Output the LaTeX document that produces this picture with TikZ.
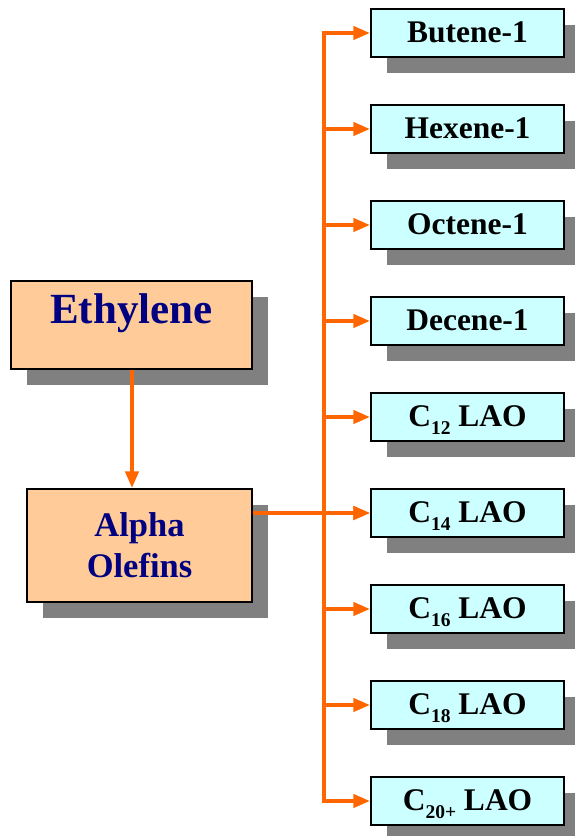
\documentclass[tikz,border=0pt]{standalone}
\usepackage{fontspec}
\setmainfont{Liberation Serif}
\usetikzlibrary{arrows.meta,shadows}
\definecolor{peach}{RGB}{255,204,153}
\definecolor{lcyan}{RGB}{204,255,255}
\definecolor{flow}{RGB}{255,102,0}
\definecolor{navy}{RGB}{0,0,128}
\definecolor{shade}{RGB}{128,128,128}
\newcommand{\lsub}[1]{\raisebox{-8pt}{\fontsize{19.5}{19.5}\selectfont #1}}
\begin{document}
\begin{tikzpicture}[x=1pt,y=-1pt,
  shbox/.style={draw=black, line width=1.5pt, inner sep=0pt,
    drop shadow={shadow xshift=16pt, shadow yshift=-16pt, fill=shade, opacity=1}},
  srcbox/.style={shbox, fill=peach, font=\bfseries, text=navy},
  prodbox/.style={shbox, fill=lcyan, minimum width=193pt, minimum height=48pt,
    font=\fontsize{31.5}{31.5}\selectfont\bfseries, text=black, text height=22pt, text depth=3pt},
  flowline/.style={draw=flow, line width=4.8pt},
  arr/.style={flowline, -{Triangle[length=17pt,width=13pt]}}
]
\useasboundingbox (0,0) rectangle (574,836);
\node[srcbox, minimum width=241pt, minimum height=88pt, text height=30pt, text depth=34pt,
  font=\fontsize{43}{43}\selectfont\bfseries] (eth) at (131.5,325) {Ethylene};
\node[srcbox, minimum width=225pt, minimum height=113pt, align=center,
  font=\fontsize{34.5}{41}\selectfont\bfseries] (alpha) at (139.5,545.5) {Alpha\\Olefins};
\node[prodbox] (b1) at (467.5,33) {Butene-1};
\node[prodbox] (b2) at (467.5,129) {Hexene-1};
\node[prodbox] (b3) at (467.5,225) {Octene-1};
\node[prodbox] (b4) at (467.5,321) {Decene-1};
\node[prodbox] (b5) at (467.5,417) {C\lsub{12} LAO};
\node[prodbox] (b6) at (467.5,513) {C\lsub{14} LAO};
\node[prodbox] (b7) at (467.5,609) {C\lsub{16} LAO};
\node[prodbox] (b8) at (467.5,705) {C\lsub{18} LAO};
\node[prodbox] (b9) at (467.5,801) {C\lsub{20+} LAO};
\coordinate (bus) at (324,0);
\draw[arr] (eth.south -| 132,0) -- (alpha.north -| 132,0);
\draw[flowline, {Triangle[length=17pt,width=13pt]}-{Triangle[length=17pt,width=13pt]}]
  (b1.west) -- (bus |- b1) -- (bus |- b9) -- (b9.west);
\foreach \i in {2,...,8} {\draw[arr] (bus |- b\i) -- (b\i.west);}
\draw[arr] (alpha.east |- b6) -- (b6.west);
\end{tikzpicture}
\end{document}
